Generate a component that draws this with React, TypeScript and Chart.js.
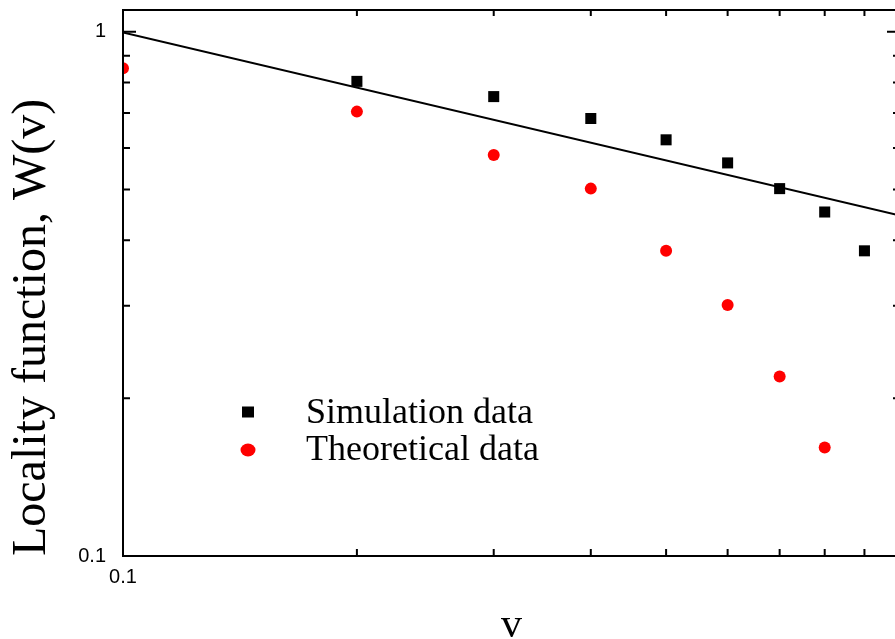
import React, { useEffect, useRef } from 'react';
import { Chart, registerables } from 'chart.js';

Chart.register(...registerables);

// ---- data ----
const vSim = [0.2, 0.3, 0.4, 0.5, 0.6, 0.7, 0.8, 0.9];
const wSim = [0.804, 0.752, 0.683, 0.622, 0.562, 0.502, 0.453, 0.382];
const vTheo = [0.1, 0.2, 0.3, 0.4, 0.5, 0.6, 0.7, 0.8];
const wTheo = [0.852, 0.704, 0.582, 0.502, 0.382, 0.301, 0.22, 0.161];
const vFit = [0.1, 1.0];
const wFit = [0.997, 0.446];

const tickValues = [0.1, 0.2, 0.3, 0.4, 0.5, 0.6, 0.7, 0.8, 0.9, 1];
const majorTickValues = [0.1, 1];
const majorTickLabels = ['0.1', '1'];

const seriesLabels = ['Simulation data', 'Theoretical data'];
const xTitle = 'v';
const yTitle = 'Locality function, W(v)';

const isMajor = (v: number) => majorTickValues.some((m) => Math.abs(m - v) < 1e-9);
const labelFor = (v: number) => {
  const i = majorTickValues.findIndex((m) => Math.abs(m - v) < 1e-9);
  return i >= 0 ? majorTickLabels[i] : '';
};

const frameAndLegend = {
  id: 'frameAndLegend',
  afterDatasetsDraw(chart: any) {
    const { ctx, chartArea, scales } = chart;
    const { left, right, top, bottom } = chartArea;
    const x = scales.x;
    const y = scales.y;
    ctx.save();
    ctx.strokeStyle = '#000';
    ctx.lineWidth = 2;
    ctx.strokeRect(left, top, right - left, bottom - top);
    ctx.beginPath();
    for (const v of tickValues) {
      const px = x.getPixelForValue(v);
      const lenB = isMajor(v) ? 13 : 7;
      const lenT = isMajor(v) ? 12 : 6;
      ctx.moveTo(px, bottom);
      ctx.lineTo(px, bottom - lenB);
      ctx.moveTo(px, top);
      ctx.lineTo(px, top + lenT);
    }
    for (const v of tickValues) {
      if (v > y.max) continue;
      const py = y.getPixelForValue(v);
      const len = isMajor(v) ? 13 : 7;
      ctx.moveTo(left, py);
      ctx.lineTo(left + len, py);
      ctx.moveTo(right, py);
      ctx.lineTo(right - len, py);
    }
    ctx.stroke();

    // legend
    ctx.fillStyle = '#000';
    ctx.fillRect(242, 406.5, 12, 11);
    ctx.fillStyle = '#ff0000';
    ctx.beginPath();
    ctx.ellipse(248, 450, 7.5, 6.5, 0, 0, Math.PI * 2);
    ctx.fill();
    ctx.fillStyle = '#000';
    ctx.font = '36px "Liberation Serif"';
    ctx.textBaseline = 'alphabetic';
    ctx.textAlign = 'left';
    ctx.fillText(seriesLabels[0], 306, 423);
    ctx.fillText(seriesLabels[1], 306, 460);
    ctx.restore();
  },
};

export default function App() {
  const ref = useRef<HTMLCanvasElement | null>(null);

  useEffect(() => {
    if (!ref.current) return;
    const chart = new Chart(ref.current, {
      type: 'scatter',
      data: {
        datasets: [
          {
            label: 'fit',
            data: vFit.map((v, i) => ({ x: v, y: wFit[i] })),
            showLine: true,
            borderColor: '#000',
            borderWidth: 2,
            pointRadius: 0,
            clip: 0,
          },
          {
            label: seriesLabels[0],
            data: vSim.map((v, i) => ({ x: v, y: wSim[i] })),
            pointStyle: 'rect',
            pointRadius: 7.8,
            backgroundColor: '#000',
            borderWidth: 0,
            clip: 0,
          },
          {
            label: seriesLabels[1],
            data: vTheo.map((v, i) => ({ x: v, y: wTheo[i] })),
            pointStyle: 'circle',
            pointRadius: 6,
            backgroundColor: '#ff0000',
            borderWidth: 0,
            clip: 0,
          },
        ],
      } as any,
      options: {
        responsive: false,
        animation: false,
        devicePixelRatio: 1,
        layout: { padding: { top: 10, right: 20, left: 0, bottom: 0 } },
        plugins: { legend: { display: false }, tooltip: { enabled: false } },
        scales: {
          x: {
            type: 'logarithmic',
            position: 'bottom',
            min: 0.1,
            max: 1,
            grid: { display: false },
            border: { display: false },
            afterBuildTicks: (s: any) => {
              s.ticks = majorTickValues.map((v) => ({ value: v }));
            },
            afterFit: (s: any) => {
              s.height = 83;
              s.paddingLeft = 0;
              s.paddingRight = 0;
            },
            ticks: {
              autoSkip: false,
              maxRotation: 0,
              padding: 1,
              color: '#000',
              font: { family: 'Liberation Sans', size: 20 },
              callback: (v: any) => labelFor(Number(v)),
            },
            title: {
              display: true,
              text: xTitle,
              color: '#000',
              font: { family: 'Liberation Serif', size: 42, lineHeight: 0.6 },
              padding: { top: 0, bottom: 0 },
            },
          },
          y: {
            type: 'logarithmic',
            position: 'left',
            min: 0.1,
            max: 1.1,
            grid: { display: false },
            border: { display: false },
            afterBuildTicks: (s: any) => {
              s.ticks = majorTickValues.map((v) => ({ value: v }));
            },
            afterFit: (s: any) => {
              s.width = 123;
              s.paddingTop = 0;
              s.paddingBottom = 0;
            },
            ticks: {
              autoSkip: false,
              padding: 9,
              color: '#000',
              font: { family: 'Liberation Sans', size: 20 },
              callback: (v: any) => labelFor(Number(v)),
            },
            title: {
              display: true,
              text: yTitle,
              align: 'start',
              color: '#000',
              font: { family: 'Liberation Serif', size: 48 },
              padding: { top: 4, bottom: 0 },
            },
          },
        },
      } as any,
      plugins: [frameAndLegend],
    });
    return () => chart.destroy();
  }, []);

  return (
    <div
      style={{
        position: 'fixed',
        left: 0,
        top: 0,
        width: 895,
        height: 639,
        overflow: 'hidden',
        background: '#fff',
      }}
    >
      <canvas ref={ref} width={920} height={639} style={{ display: 'block' }} />
    </div>
  );
}
